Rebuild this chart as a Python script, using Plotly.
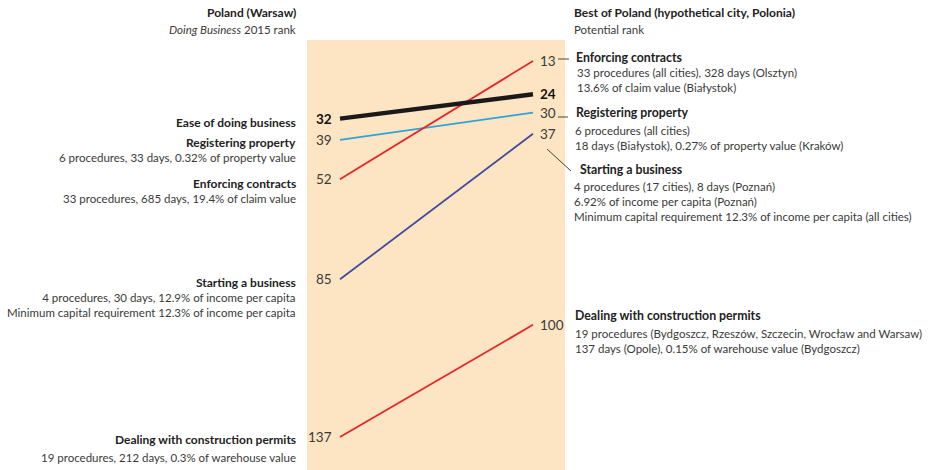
import plotly.graph_objects as go

# ---- data ----
categories = ["Ease of doing business", "Registering property", "Enforcing contracts",
              "Starting a business", "Dealing with construction permits"]
warsaw_rank = [32, 39, 52, 85, 137]
best_rank = [24, 30, 13, 37, 100]
line_colors = ["#1a1a1a", "#2ea3d9", "#e5262b", "#3f4b9c", "#e5262b"]
line_widths = [4.5, 1.8, 1.8, 1.8, 1.8]

left_sub = ["", "6 procedures, 33 days, 0.32% of property value",
            "33 procedures, 685 days, 19.4% of claim value",
            "4 procedures, 30 days, 12.9% of income per capita<br>Minimum capital requirement 12.3% of income per capita",
            "19 procedures, 212 days, 0.3% of warehouse value"]
right_sub = {
    "Enforcing contracts": "33 procedures (all cities), 328 days (Olsztyn)<br>13.6% of claim value (Białystok)",
    "Registering property": "6 procedures (all cities)<br>18 days (Białystok), 0.27% of property value (Kraków)",
    "Starting a business": "4 procedures (17 cities), 8 days (Poznań)<br>6.92% of income per capita (Poznań)<br>Minimum capital requirement 12.3% of income per capita (all cities)",
    "Dealing with construction permits": "19 procedures (Bydgoszcz, Rzeszów, Szczecin, Wrocław and Warsaw)<br>137 days (Opole), 0.15% of warehouse value (Bydgoszcz)",
}

W, H = 929, 470
FONT = "Lato"
TXT = "#3a3a3a"
# x positions: column 0 at px 340, column 1 at px 533
x0px, x1px = 340, 533
unit = x1px - x0px
xr = [-x0px / unit, (W - x0px) / unit]
# y: rank 13 at px 61, rank 137 at px 437
k = (437 - 61) / (137 - 13)
yr = [13 + (H - 61) / k, 13 - 61 / k]

def px(x):
    return x / W

def py(y):
    return 1 - y / H

fig = go.Figure()

# shaded band
fig.add_shape(type="rect", xref="paper", yref="paper", x0=px(307), x1=px(565),
              y0=0, y1=py(40), fillcolor="#fde4c3", line_width=0, layer="below")

order = [1, 2, 3, 4, 0]
for i in order:
    fig.add_trace(go.Scatter(x=[0, 1], y=[warsaw_rank[i], best_rank[i]], mode="lines",
                             line=dict(color=line_colors[i], width=line_widths[i]),
                             hoverinfo="skip", showlegend=False))

ann = []
# rank numbers
for i, c in enumerate(categories):
    bold = i == 0
    fmt = (lambda v: f"<b>{v}</b>") if bold else (lambda v: str(v))
    ann.append(dict(x=0, y=warsaw_rank[i], xref="x", yref="y", text=fmt(warsaw_rank[i]),
                    xanchor="right", yanchor="middle", xshift=-6, showarrow=False,
                    font=dict(size=13.5, color="#111" if bold else TXT, family=FONT)))
    ann.append(dict(x=1, y=best_rank[i], xref="x", yref="y", text=fmt(best_rank[i]),
                    xanchor="left", yanchor="middle", xshift=5, showarrow=False,
                    font=dict(size=13.5, color="#111" if bold else TXT, family=FONT)))

# left labels (title y px, sub y px)
left_pos = {0: (122, None), 1: (143, 158), 2: (183, 198), 3: (282, 305), 4: (439, 457)}
for i, c in enumerate(categories):
    ty, sy = left_pos[i]
    ann.append(dict(x=px(298), y=py(ty), xref="paper", yref="paper", text=f"<b>{c}</b>",
                    xanchor="right", yanchor="middle", showarrow=False,
                    font=dict(size=12, color="#222", family=FONT)))
    if sy is not None:
        ann.append(dict(x=px(298), y=py(sy), xref="paper", yref="paper", text=left_sub[i],
                        xanchor="right", yanchor="middle", showarrow=False, align="right",
                        font=dict(size=11.5, color=TXT, family=FONT)))

# right labels
right_pos = {"Enforcing contracts": (574, 57, 80),
             "Registering property": (574, 112, 138),
             "Starting a business": (578, 170, 201),
             "Dealing with construction permits": (573, 315, 341)}
sub_x = {"Enforcing contracts": 575, "Registering property": 573,
         "Starting a business": 572, "Dealing with construction permits": 573}
for c, (tx, ty, sy) in right_pos.items():
    ann.append(dict(x=px(tx), y=py(ty), xref="paper", yref="paper", text=f"<b>{c}</b>",
                    xanchor="left", yanchor="middle", showarrow=False,
                    font=dict(size=12.3, color="#222", family=FONT)))
    ann.append(dict(x=px(sub_x[c]), y=py(sy), xref="paper", yref="paper", text=right_sub[c],
                    xanchor="left", yanchor="middle", showarrow=False, align="left",
                    font=dict(size=11.5, color=TXT, family=FONT)))

# headers
ann.append(dict(x=px(298), y=py(13), xref="paper", yref="paper", text="<b>Poland (Warsaw)</b>",
                xanchor="right", yanchor="middle", showarrow=False,
                font=dict(size=12, color="#222", family=FONT)))
ann.append(dict(x=px(298), y=py(30), xref="paper", yref="paper",
                text="<i>Doing Business</i> 2015 rank",
                xanchor="right", yanchor="middle", showarrow=False,
                font=dict(size=11.5, color=TXT, family=FONT)))
ann.append(dict(x=px(572), y=py(13), xref="paper", yref="paper",
                text="<b>Best of Poland (hypothetical city, Polonia)</b>",
                xanchor="left", yanchor="middle", showarrow=False,
                font=dict(size=12, color="#222", family=FONT)))
ann.append(dict(x=px(572), y=py(30), xref="paper", yref="paper", text="Potential rank",
                xanchor="left", yanchor="middle", showarrow=False,
                font=dict(size=11.5, color=TXT, family=FONT)))

# leader lines
for (xa, ya, xb, yb) in [(558, 59, 569, 59), (558, 117, 568, 117), (547, 149, 571, 171)]:
    fig.add_shape(type="line", xref="paper", yref="paper", x0=px(xa), y0=py(ya),
                  x1=px(xb), y1=py(yb), line=dict(color="#444", width=1))

fig.update_layout(
    width=W, height=H, margin=dict(l=0, r=0, t=0, b=0),
    paper_bgcolor="white", plot_bgcolor="rgba(0,0,0,0)",
    xaxis=dict(range=xr, visible=False, fixedrange=True),
    yaxis=dict(range=yr, visible=False, fixedrange=True),
    annotations=ann, showlegend=False,
)
fig.write_html("out.html", config={"displayModeBar": False},
               post_script="document.body.style.margin='0';document.body.style.overflow='hidden';")
